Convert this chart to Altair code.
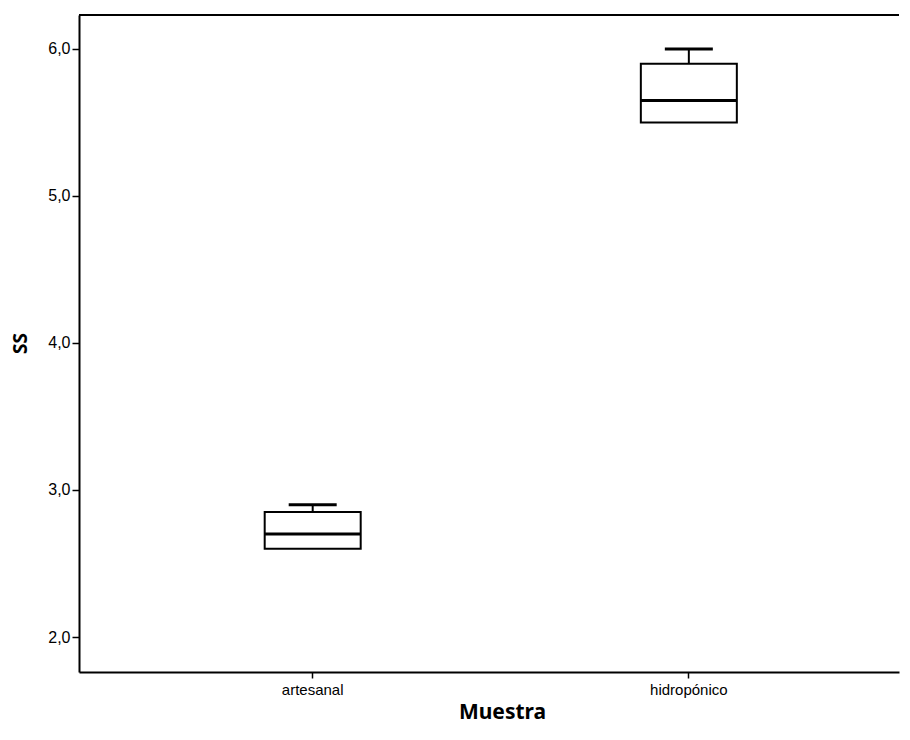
import altair as alt
import pandas as pd

# Data (summary statistics)
categories = ["artesanal", "hidropónico"]
mins = [2.6, 5.5]
q1s = [2.6, 5.5]
medians = [2.7, 5.65]
q3s = [2.85, 5.9]
maxs = [2.9, 6.0]
y_ticks = [2, 3, 4, 5, 6]

df = pd.DataFrame({
    "Muestra": categories,
    "min": mins, "q1": q1s, "median": medians, "q3": q3s, "max": maxs,
})

W, H = 820, 657
xscale = alt.Scale(domain=categories, paddingInner=0.5, paddingOuter=0.34, align=0.546)
yscale = alt.Scale(domain=[1.762, 6.231], nice=False, zero=False)

xenc = alt.X("Muestra:N", scale=xscale, sort=categories,
             axis=alt.Axis(title="Muestra", labelAngle=0, bandPosition=0.5,
                           domainColor="black", domainWidth=2, tickColor="black",
                           tickWidth=1.5, tickSize=6, labelPadding=4,
                           labelFont="Liberation Sans", labelFontSize=15, labelColor="black",
                           titleFont="Noto Sans", titleFontSize=21, titleFontWeight="bold",
                           titleColor="black", titleX=423, titleY=40, titleBaseline="middle",
                           titleAlign="center"))

base = alt.Chart(df)

box = base.mark_bar(size=96, fill="white", stroke="black", strokeWidth=2).encode(
    x=xenc,
    y=alt.Y("q1:Q", scale=yscale,
            axis=alt.Axis(title="SS", values=y_ticks, grid=False,
                          labelExpr="replace(format(datum.value, '.1f'), '.', ',')",
                          domainColor="black", domainWidth=2, tickColor="black",
                          tickWidth=1.5, tickSize=7, labelPadding=2,
                          labelFont="Liberation Sans", labelFontSize=16, labelColor="black",
                          titleFont="Noto Sans", titleFontSize=19, titleFontWeight="bold",
                          titleColor="black", titleX=-59, titleY=328,
                          titleBaseline="middle", titleAlign="center")),
    y2="q3:Q",
)

whisker_hi = base.mark_rule(color="black", strokeWidth=2).encode(
    x=alt.X("Muestra:N", scale=xscale, sort=categories),
    y=alt.Y("q3:Q", scale=yscale), y2="max:Q")
whisker_lo = base.mark_rule(color="black", strokeWidth=2).encode(
    x=alt.X("Muestra:N", scale=xscale, sort=categories),
    y=alt.Y("min:Q", scale=yscale), y2="q1:Q")

cap_hi = base.mark_tick(size=48, thickness=3, color="black", opacity=1).encode(
    x=alt.X("Muestra:N", scale=xscale, sort=categories),
    y=alt.Y("max:Q", scale=yscale))

median = base.mark_tick(size=96, thickness=3, color="black", opacity=1).encode(
    x=alt.X("Muestra:N", scale=xscale, sort=categories),
    y=alt.Y("median:Q", scale=yscale))

top_border = alt.Chart(pd.DataFrame({"a": [0]})).mark_rule(color="black", strokeWidth=2).encode(
    x=alt.value(0), x2=alt.value(W), y=alt.value(0))

chart = alt.layer(box, whisker_hi, whisker_lo, cap_hi, median, top_border).properties(
    width=W, height=H,
    autosize=alt.AutoSizeParams(type="none"),
    padding={"left": 71, "top": 7, "right": 3, "bottom": 60},
    background="white",
).configure_view(stroke=None)

chart.save("out.html", embed_options={"renderer": "svg", "actions": False})
